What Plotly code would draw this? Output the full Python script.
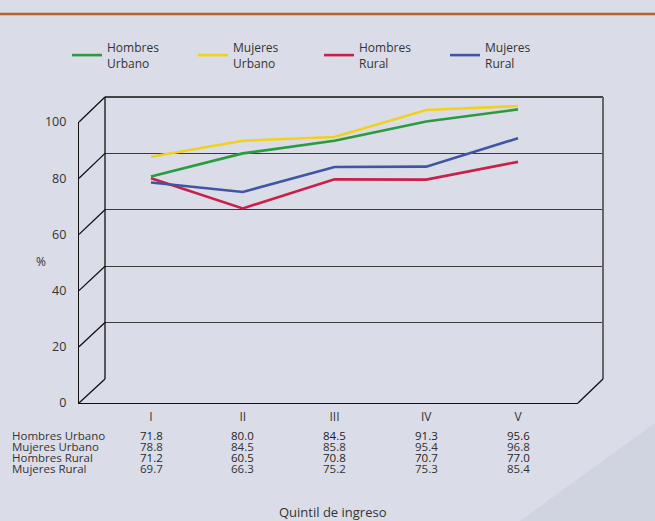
import plotly.graph_objects as go

# ---- data -------------------------------------------------------------
quintiles = ["I", "II", "III", "IV", "V"]
hombres_urbano = [71.8, 80.0, 84.5, 91.3, 95.6]
mujeres_urbano = [78.8, 84.5, 85.8, 95.4, 96.8]
hombres_rural = [71.2, 60.5, 70.8, 70.7, 77.0]
mujeres_rural = [69.7, 66.3, 75.2, 75.3, 85.4]

series_names = ["Hombres Urbano", "Mujeres Urbano", "Hombres Rural", "Mujeres Rural"]
series_values = [hombres_urbano, mujeres_urbano, hombres_rural, mujeres_rural]
series_colors = ["#2b9a40", "#f0d21c", "#c81f4b", "#4255a3"]
y_ticks = [0, 20, 40, 60, 80, 100]

# ---- page geometry (pixels) ------------------------------------------
W, H = 655, 521
FONT = "Open Sans"
TXT = "#333333"


def px(x):
    return x / W


def py(y):
    return 1 - y / H


# front face of the pseudo-3D box and its back wall
FX0, FX1, FY_TOP, FY_BOT = 79, 578, 122, 403
BX0, BX1, BY_TOP, BY_BOT = 105, 603, 97, 379
CAT_FIRST, CAT_LAST = 151, 518          # horizontal position of I and V
unit = (CAT_LAST - CAT_FIRST) / (len(quintiles) - 1)


def cat_range(x0, x1):
    return [-(CAT_FIRST - x0) / unit, (len(quintiles) - 1) + (x1 - CAT_LAST) / unit]


idx = list(range(len(quintiles)))

fig = go.Figure()

for name, vals, col in zip(series_names, series_values, series_colors):
    fig.add_trace(go.Scatter(
        x=idx, y=vals, mode="lines", name=name.replace(" ", "<br>"),
        line=dict(color=col, width=2.6),
        xaxis="x2", yaxis="y2",
    ))

# empty trace so the front axes are laid out
fig.add_trace(go.Scatter(x=[], y=[], showlegend=False, hoverinfo="skip"))

shapes = []
# darker band in the lower right corner of the page
shapes.append(dict(type="path", xref="paper", yref="paper", layer="below",
                   path=f"M {px(520)},{py(521)} L {px(655)},{py(423)} L {px(655)},{py(521)} Z",
                   fillcolor="#d0d4e0", line=dict(width=0)))
# rule under the heading
shapes.append(dict(type="line", xref="paper", yref="paper",
                   x0=0, x1=1, y0=py(14), y1=py(14),
                   line=dict(color="#b4622c", width=2.5)))

# back wall outline
black = dict(color="#111111", width=1.3)
shapes.append(dict(type="line", xref="paper", yref="paper",
                   x0=px(BX0), x1=px(BX0), y0=py(BY_TOP), y1=py(BY_BOT), line=black))
shapes.append(dict(type="line", xref="paper", yref="paper",
                   x0=px(BX0), x1=px(BX1), y0=py(BY_TOP), y1=py(BY_TOP), line=black))
shapes.append(dict(type="line", xref="paper", yref="paper",
                   x0=px(BX1), x1=px(BX1), y0=py(BY_TOP), y1=py(BY_BOT),
                   line=dict(color="#666666", width=2)))

# depth connectors at every y tick, from the front axis to the back wall
for v in y_ticks:
    yf = FY_BOT - v / 100 * (FY_BOT - FY_TOP)
    yb = BY_BOT - v / 100 * (BY_BOT - BY_TOP)
    shapes.append(dict(type="line", xref="paper", yref="paper",
                       x0=px(FX0), x1=px(BX0), y0=py(yf), y1=py(yb), line=black))
# floor, right edge
shapes.append(dict(type="line", xref="paper", yref="paper",
                   x0=px(FX1), x1=px(BX1), y0=py(FY_BOT), y1=py(BY_BOT), line=black))

# data table under the axis
annotations = []
row_y = [435, 446.2, 457.3, 468.4]
row_colors = ["#1e1e1e", "#333333", "#1e1e1e", "#333333"]
for r, (name, vals) in enumerate(zip(series_names, series_values)):
    annotations.append(dict(text=name, xref="paper", yref="paper",
                            x=px(11), y=py(row_y[r]), xanchor="left", yanchor="middle",
                            showarrow=False, borderpad=0,
                            font=dict(family=FONT, size=11.5, color=TXT)))
    for i, v in enumerate(vals):
        annotations.append(dict(text=f"{v:.1f}", xref="x", yref="paper",
                                x=i, y=py(row_y[r]), xanchor="center", yanchor="middle",
                                showarrow=False, borderpad=0,
                                font=dict(family=FONT, size=11.5, color=row_colors[r])))

annotations.append(dict(text="Quintil de ingreso", xref="paper", yref="paper",
                        x=px(333), y=py(512), xanchor="center", yanchor="middle",
                        showarrow=False, font=dict(family=FONT, size=13, color=TXT)))
annotations.append(dict(text="%", xref="paper", yref="paper",
                        x=px(41), y=py(261), xanchor="center", yanchor="middle",
                        showarrow=False, font=dict(family=FONT, size=12, color=TXT)))

fig.update_layout(
    width=W, height=H,
    margin=dict(l=0, r=0, t=0, b=0, pad=0, autoexpand=False),
    paper_bgcolor="#dadde8",
    plot_bgcolor="rgba(0,0,0,0)",
    font=dict(family=FONT, size=12, color=TXT),
    showlegend=True,
    legend=dict(orientation="h", x=px(67), y=py(33), xanchor="left", yanchor="top",
                bgcolor="rgba(0,0,0,0)", entrywidth=81, entrywidthmode="pixels",
                font=dict(family=FONT, size=12, color=TXT), itemwidth=30,
                valign="middle", tracegroupgap=0),
    # front face: category labels and percent scale
    xaxis=dict(domain=[px(FX0), px(FX1)], range=cat_range(FX0, FX1),
               tickvals=idx, ticktext=quintiles, ticks="outside", ticklen=2,
               tickcolor="rgba(0,0,0,0)",
               showgrid=False, zeroline=False, showline=True,
               linecolor="#111111", linewidth=1.3,
               tickfont=dict(family=FONT, size=12, color=TXT), fixedrange=True),
    yaxis=dict(domain=[py(FY_BOT), py(FY_TOP)], range=[0, 100],
               tickvals=y_ticks, ticks="outside", ticklen=9, tickcolor="rgba(0,0,0,0)",
               showgrid=False, zeroline=False, showline=True,
               linecolor="#111111", linewidth=1.3,
               tickfont=dict(family=FONT, size=12.5, color=TXT), fixedrange=True),
    # back wall: the series and the horizontal grid
    xaxis2=dict(domain=[px(BX0), px(BX1)], range=cat_range(BX0, BX1),
                anchor="y2", showticklabels=False, ticks="",
                showgrid=False, zeroline=False, showline=False, fixedrange=True),
    yaxis2=dict(domain=[py(BY_BOT), py(BY_TOP)], range=[0, 100],
                anchor="x2", showticklabels=False, ticks="",
                tickvals=y_ticks, showgrid=True, gridcolor="#3a3a3a", gridwidth=1.2,
                zeroline=False, showline=False, fixedrange=True),
    shapes=shapes,
    annotations=annotations,
)

fig.write_html("out.html")
